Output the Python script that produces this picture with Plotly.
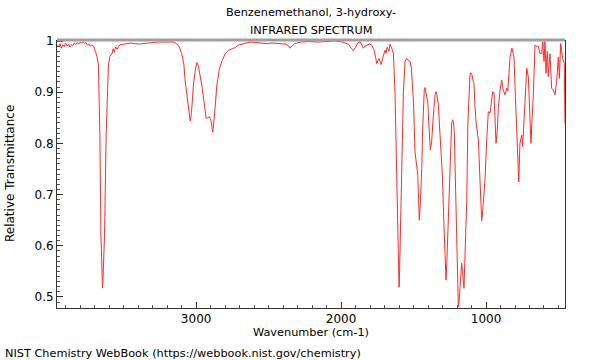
import plotly.graph_objects as go

# Wavenumber (cm-1) and relative transmittance (10 per row, aligned)
wavenumber = [
    3960, 3950, 3940, 3930, 3920, 3910, 3900, 3890, 3880, 3870,
    3860, 3850, 3840, 3830, 3820, 3810, 3800, 3790, 3780, 3770,
    3760, 3750, 3740, 3730, 3720, 3708, 3695, 3685, 3674, 3664,
    3657, 3650, 3646, 3642, 3632, 3621, 3605, 3595, 3581, 3572,
    3565, 3555, 3545, 3535, 3520, 3500, 3480, 3450, 3420, 3390,
    3370, 3340, 3300, 3260, 3220, 3190, 3160, 3140, 3120, 3100,
    3085, 3075, 3060, 3050, 3041, 3032, 3019, 3005, 2995, 2985,
    2970, 2961, 2945, 2931, 2920, 2908, 2898, 2885, 2872, 2857,
    2840, 2823, 2800, 2777, 2750, 2731, 2708, 2680, 2650, 2628,
    2580, 2520, 2470, 2420, 2380, 2360, 2352, 2340, 2320, 2280,
    2220, 2160, 2100, 2040, 1990, 1950, 1930, 1915, 1900, 1885,
    1869, 1858, 1846, 1835, 1823, 1805, 1788, 1770, 1760, 1754,
    1745, 1738, 1731, 1724, 1712, 1697, 1690, 1682, 1670, 1662,
    1650, 1639, 1628, 1618, 1610, 1604, 1600, 1597, 1592, 1585,
    1578, 1570, 1559, 1552, 1547, 1535, 1524, 1515, 1500, 1490,
    1480, 1471, 1465, 1460, 1454, 1448, 1443, 1438, 1432, 1426,
    1421, 1415, 1408, 1402, 1395, 1389, 1384, 1380, 1375, 1367,
    1361, 1356, 1350, 1345, 1339, 1329, 1320, 1310, 1301, 1290,
    1283, 1276, 1270, 1265, 1260, 1252, 1244, 1237, 1230, 1224,
    1219, 1212, 1206, 1202, 1196, 1191, 1186, 1179, 1173, 1168,
    1162, 1157, 1152, 1145, 1138, 1133, 1125, 1117, 1111, 1106,
    1098, 1088, 1083, 1076, 1068, 1053, 1041, 1034, 1030, 1025,
    1018, 1007, 995, 984, 972, 961, 954, 945, 938, 931,
    926, 922, 915, 908, 903, 892, 881, 869, 857, 850,
    842, 834, 821, 807, 797, 788, 774, 766, 754, 747,
    736, 725, 719, 708, 697, 690, 682, 674, 662, 650,
    639, 628, 616, 609, 600, 593, 586, 577, 570, 559,
    547, 536, 524, 512, 501, 494, 485, 471, 460, 455,
]
transmittance = [
    0.992, 0.988, 0.995, 0.986, 0.993, 0.989, 0.996, 0.990, 0.994, 0.988,
    0.993, 0.991, 0.996, 0.993, 0.997, 0.994, 0.998, 0.996, 0.999, 0.995,
    0.997, 0.992, 0.994, 0.990, 0.992, 0.990, 0.980, 0.970, 0.953, 0.816,
    0.621, 0.540, 0.518, 0.540, 0.621, 0.816, 0.953, 0.970, 0.975, 0.985,
    0.978, 0.988, 0.984, 0.990, 0.993, 0.994, 0.995, 0.996, 0.995, 0.994,
    0.995, 0.996, 0.997, 0.998, 0.998, 0.998, 0.998, 0.996, 0.990, 0.976,
    0.955, 0.920, 0.885, 0.860, 0.844, 0.860, 0.914, 0.945, 0.958, 0.952,
    0.930, 0.914, 0.880, 0.849, 0.850, 0.852, 0.845, 0.822, 0.860, 0.914,
    0.945, 0.960, 0.975, 0.982, 0.985, 0.987, 0.992, 0.994, 0.996, 0.998,
    0.997, 0.995, 0.996, 0.995, 0.994, 0.990, 0.986, 0.990, 0.995, 0.998,
    0.999, 0.998, 0.999, 1.000, 0.998, 0.994, 0.986, 0.981, 0.988, 0.996,
    0.999, 0.994, 0.986, 0.990, 0.992, 0.994, 0.992, 0.980, 0.966, 0.956,
    0.962, 0.966, 0.960, 0.954, 0.968, 0.982, 0.976, 0.988, 0.980, 0.994,
    0.985, 0.976, 0.900, 0.780, 0.640, 0.560, 0.519, 0.540, 0.600, 0.686,
    0.800, 0.900, 0.960, 0.966, 0.966, 0.962, 0.960, 0.947, 0.880, 0.784,
    0.760, 0.738, 0.690, 0.650, 0.680, 0.720, 0.751, 0.820, 0.881, 0.905,
    0.909, 0.900, 0.890, 0.881, 0.840, 0.800, 0.787, 0.795, 0.803, 0.840,
    0.875, 0.881, 0.896, 0.901, 0.895, 0.875, 0.830, 0.780, 0.738, 0.640,
    0.570, 0.533, 0.570, 0.610, 0.654, 0.750, 0.816, 0.840, 0.846, 0.840,
    0.823, 0.740, 0.660, 0.621, 0.540, 0.481, 0.490, 0.523, 0.550, 0.566,
    0.550, 0.530, 0.517, 0.580, 0.640, 0.686, 0.840, 0.921, 0.932, 0.938,
    0.935, 0.921, 0.917, 0.872, 0.840, 0.807, 0.729, 0.680, 0.649, 0.660,
    0.683, 0.729, 0.807, 0.862, 0.859, 0.891, 0.901, 0.899, 0.860, 0.800,
    0.815, 0.826, 0.870, 0.895, 0.904, 0.924, 0.904, 0.895, 0.908, 0.902,
    0.940, 0.969, 0.986, 0.969, 0.890, 0.807, 0.725, 0.800, 0.816, 0.794,
    0.859, 0.930, 0.947, 0.930, 0.865, 0.800, 0.850, 0.891, 0.992, 0.990,
    0.990, 0.976, 0.975, 0.999, 0.960, 0.999, 0.937, 0.980, 0.930, 0.975,
    0.908, 0.904, 0.895, 0.924, 0.969, 0.927, 0.995, 0.966, 0.956, 0.839,
]

n = min(len(wavenumber), len(transmittance))
wavenumber = wavenumber[:n]
transmittance = transmittance[:n]

x_ticks = [1000, 2000, 3000]
y_ticks = [0.5, 0.6, 0.7, 0.8, 0.9, 1.0]
y_tick_labels = ["0.5", "0.6", "0.7", "0.8", "0.9", "1"]

# plot area in pixels
L, R, T, B = 57, 565, 40, 308
W, H = R - L, B - T


def px(x):
    return (x - L) / W


def py(y):
    return (B - y) / H


fig = go.Figure()
fig.add_trace(go.Scatter(
    x=wavenumber, y=transmittance, mode="lines",
    line=dict(color="#ff2a2a", width=1),
    hoverinfo="skip", showlegend=False,
))

font = dict(family="DejaVu Sans", size=12, color="black")
tfont = dict(family="DejaVu Sans", size=11.3, color="black")

fig.update_layout(
    width=600, height=360,
    margin=dict(l=L, r=600 - R, t=T, b=360 - B, autoexpand=False),
    paper_bgcolor="white", plot_bgcolor="white",
    font=font,
    showlegend=False,
    xaxis=dict(
        range=[3960, 455], automargin=False,
        tickvals=x_ticks, ticktext=[str(v) for v in x_ticks],
        ticks="inside", ticklen=6, tickcolor="#333",
        minor=dict(dtick=100, tick0=0, ticks="inside", ticklen=3, tickcolor="#555"),
        showgrid=False, zeroline=False,
        showline=True, linecolor="#333", linewidth=1, mirror=False,
        tickfont=font,
    ),
    yaxis=dict(
        range=[0.4785, 1.002], automargin=False,
        tickvals=y_ticks, ticktext=y_tick_labels,
        ticks="inside", ticklen=6, tickcolor="#333",
        minor=dict(dtick=0.01, tick0=0, ticks="inside", ticklen=3, tickcolor="#555"),
        showgrid=False, zeroline=False,
        showline=True, linecolor="#333", linewidth=1, mirror=True,
        tickfont=font,
    ),
    annotations=[
        dict(text="Benzenemethanol, 3-hydroxy-", x=0.5, y=py(13), xref="paper", yref="paper",
             showarrow=False, font=tfont, yanchor="middle"),
        dict(text="INFRARED SPECTRUM", x=0.5, y=py(30), xref="paper", yref="paper",
             showarrow=False, font=tfont, yanchor="middle"),
        dict(text="Wavenumber (cm-1)", x=0.5, y=py(332), xref="paper", yref="paper",
             showarrow=False, font=tfont, yanchor="middle"),
        dict(text="Relative Transmittance", x=px(10), y=py(174), xref="paper", yref="paper",
             showarrow=False, font=font, textangle=-90, xanchor="center", yanchor="middle"),
        dict(text="NIST Chemistry WebBook (https://webbook.nist.gov/chemistry)",
             x=px(3), y=py(353), xref="paper", yref="paper", showarrow=False, font=tfont,
             xanchor="left", yanchor="middle"),
    ],
    shapes=[
        dict(type="line", xref="paper", yref="paper", x0=0, x1=1, y0=1, y1=1,
             line=dict(color="#a0a0a0", width=3)),
    ],
)

fig.write_html(
    "out.html",
    config={"displayModeBar": False},
    post_script="document.body.style.margin='0';document.body.style.padding='0';",
)
